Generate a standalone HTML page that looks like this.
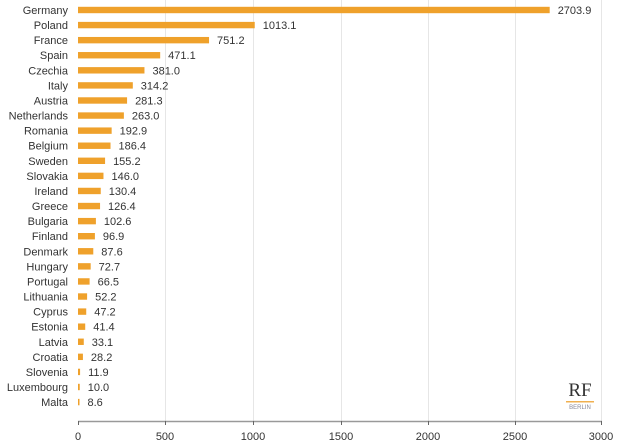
<!DOCTYPE html><html><head><style>body{margin:0;background:#fff}svg{display:block;font-family:"Liberation Sans",sans-serif}</style></head><body>
<svg width="617" height="447" xmlns="http://www.w3.org/2000/svg">
<g stroke="#e6e6e6" stroke-width="1">
<line x1="165.5" y1="0" x2="165.5" y2="421"/><line x1="253.5" y1="0" x2="253.5" y2="421"/><line x1="341.5" y1="0" x2="341.5" y2="421"/><line x1="428.5" y1="0" x2="428.5" y2="421"/><line x1="515.5" y1="0" x2="515.5" y2="421"/><line x1="601.5" y1="0" x2="601.5" y2="421"/>
</g>
<line x1="78" y1="421.5" x2="602" y2="421.5" stroke="#999" stroke-width="1.5"/>
<g stroke="#666"><line x1="78.5" y1="421" x2="78.5" y2="425"/><line x1="165.5" y1="421" x2="165.5" y2="425"/><line x1="253.5" y1="421" x2="253.5" y2="425"/><line x1="341.5" y1="421" x2="341.5" y2="425"/><line x1="428.5" y1="421" x2="428.5" y2="425"/><line x1="515.5" y1="421" x2="515.5" y2="425"/><line x1="601.5" y1="421" x2="601.5" y2="425"/></g>
<g font-size="11" fill="#333" text-anchor="middle">
<text x="78" y="440">0</text><text x="165" y="440">500</text><text x="253" y="440">1000</text><text x="341" y="440">1500</text><text x="428" y="440">2000</text><text x="515" y="440">2500</text><text x="601" y="440">3000</text>
</g>
<g id="bars" font-size="11" fill="#333"></g>
<text x="580" y="396" font-family="Liberation Serif,serif" font-size="19" text-anchor="middle" fill="#333">RF</text>
<rect x="566" y="401" width="28" height="1.5" fill="#f0b050"/>
<text x="580" y="409" font-size="6" text-anchor="middle" fill="#889">BERLIN</text>
</svg>
<script>
var d=[["Germany",2703.9],["Poland",1013.1],["France",751.2],["Spain",471.1],["Czechia",381.0],["Italy",314.2],["Austria",281.3],["Netherlands",263.0],["Romania",192.9],["Belgium",186.4],["Sweden",155.2],["Slovakia",146.0],["Ireland",130.4],["Greece",126.4],["Bulgaria",102.6],["Finland",96.9],["Denmark",87.6],["Hungary",72.7],["Portugal",66.5],["Lithuania",52.2],["Cyprus",47.2],["Estonia",41.4],["Latvia",33.1],["Croatia",28.2],["Slovenia",11.9],["Luxembourg",10.0],["Malta",8.6]];
var g=document.getElementById("bars"),s="";
d.forEach(function(r,i){var y=10+i*15.08,w=Math.max(r[1]*0.17445,1.5);
s+='<rect x="78" y="'+(y-3.2)+'" width="'+w+'" height="6.4" fill="#efa12b"/>';
s+='<text x="68" y="'+(y+4)+'" text-anchor="end">'+r[0]+'</text>';
s+='<text x="'+(78+w+8)+'" y="'+(y+4)+'">'+r[1].toFixed(1)+'</text>';});
g.innerHTML=s;
</script>
</body></html>
